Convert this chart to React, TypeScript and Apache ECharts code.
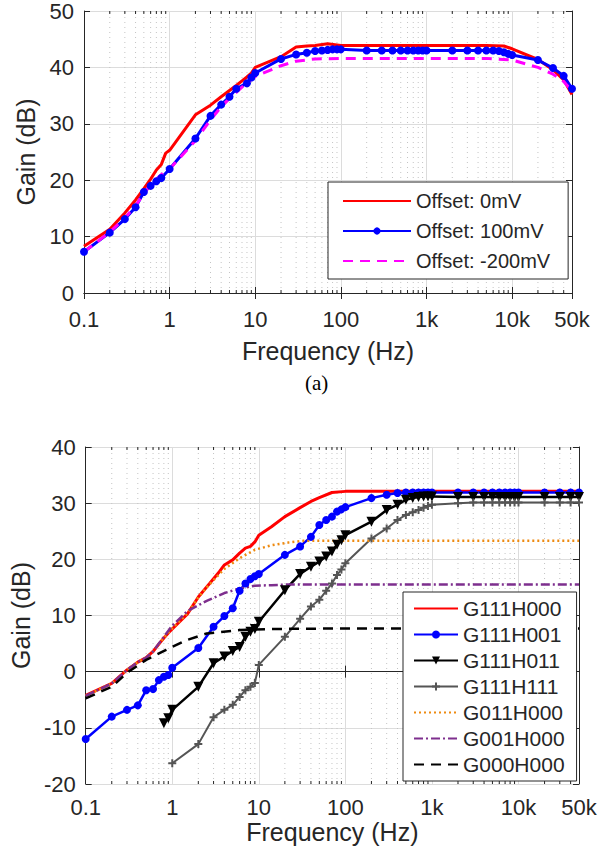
import React, { useEffect, useRef } from "react";
import * as echarts from "echarts";

// ---------- Plot (a): offsets ----------
const A_RED_F = [0.1, 0.2, 0.3, 0.4, 0.5, 0.6, 0.7, 0.8, 0.9, 1, 2, 3, 4, 5, 6, 7, 8, 9, 10, 20, 30, 40, 50, 70, 100, 200, 500, 1000, 2000, 5000, 8000, 10000, 20000, 30000, 40000, 50000];
const A_RED_G = [8.3, 11.3, 14.2, 16.5, 18.5, 20.2, 21.8, 22.8, 24.8, 25.3, 31.6, 33.3, 34.8, 35.9, 36.8, 37.6, 38.3, 39.0, 40.0, 41.9, 43.6, 43.8, 43.9, 44.2, 43.9, 43.9, 43.9, 43.9, 43.9, 43.9, 43.8, 43.3, 41.4, 39.6, 37.8, 35.2];

const A_BLUE_F = [0.1, 0.2, 0.3, 0.4, 0.5, 0.6, 0.7, 0.8, 1, 2, 3, 4, 5, 6, 8, 9, 10, 20, 30, 40, 50, 60, 70, 80, 90, 100, 200, 300, 400, 500, 600, 700, 800, 900, 1000, 2000, 3000, 4000, 5000, 6000, 7000, 8000, 9000, 10000, 20000, 30000, 40000, 50000];
const A_BLUE_G = [7.3, 10.7, 13.1, 15.2, 17.9, 19.0, 19.8, 20.4, 22.0, 27.4, 31.4, 33.4, 34.8, 36.2, 37.2, 38.2, 39.0, 41.5, 42.3, 42.6, 42.9, 43.0, 43.1, 43.2, 43.2, 43.2, 43.0, 43.0, 43.0, 43.0, 43.0, 43.0, 43.0, 43.0, 43.0, 43.0, 43.0, 43.0, 43.0, 43.0, 42.9, 42.7, 42.4, 42.2, 41.3, 39.9, 38.5, 36.2];

const A_MAG_F = [0.1, 0.2, 0.3, 0.4, 0.5, 0.6, 0.7, 0.8, 1, 2, 3, 4, 5, 7, 10, 20, 30, 50, 100, 1000, 5000, 10000, 20000, 30000, 40000, 50000];
const A_MAG_G = [7.3, 10.8, 13.3, 15.5, 17.6, 19.2, 20.2, 21.0, 22.0, 27.0, 30.7, 33.0, 34.5, 36.5, 38.4, 40.3, 41.1, 41.5, 41.6, 41.6, 41.6, 41.3, 40.0, 38.8, 37.5, 35.8];

// ---------- Plot (b): configurations ----------
const B_G111H000_F = [0.1, 0.2, 0.3, 0.4, 0.5, 0.6, 0.7, 0.8, 0.9, 1, 1.5, 2, 2.7, 3.5, 4, 5, 6, 7, 8, 9, 10, 14, 20, 30, 40, 50, 70, 100, 1000, 10000, 50000];
const B_G111H000_G = [-4.2, -2.1, 0.3, 1.7, 2.5, 3.6, 4.9, 6.0, 6.9, 7.6, 10.3, 13.3, 15.7, 17.8, 19.0, 19.9, 21.1, 22.0, 22.3, 23.1, 24.3, 25.8, 27.6, 29.2, 30.3, 31.0, 31.9, 32.1, 32.1, 32.1, 32.1];

const B_G111H001_F = [0.1, 0.2, 0.3, 0.4, 0.5, 0.6, 0.7, 0.8, 0.9, 1, 2, 3, 4, 5, 6, 7, 8, 9, 10, 20, 30, 40, 50, 60, 70, 80, 90, 100, 200, 300, 400, 500, 600, 700, 800, 900, 1000, 2000, 3000, 4000, 5000, 6000, 7000, 8000, 9000, 10000, 20000, 30000, 40000, 50000];
const B_G111H001_G = [-12.0, -8.0, -6.8, -6.0, -3.3, -3.1, -1.5, -0.9, -0.6, 0.7, 4.2, 8.0, 9.9, 11.3, 14.4, 15.7, 16.5, 17.0, 17.4, 20.8, 22.3, 24.0, 26.1, 27.0, 27.6, 28.5, 28.9, 29.3, 30.9, 31.5, 31.8, 31.9, 31.9, 31.9, 31.9, 31.9, 31.9, 31.9, 31.9, 31.9, 31.9, 31.9, 31.9, 31.9, 31.9, 31.9, 31.9, 31.9, 31.9, 31.9];

const B_G111H011_F = [0.8, 0.9, 1, 2, 3, 4, 5, 6, 7, 8, 9, 10, 20, 30, 40, 50, 60, 70, 80, 90, 100, 200, 300, 400, 500, 600, 700, 800, 900, 1000, 2000, 3000, 4000, 5000, 6000, 7000, 8000, 9000, 10000, 20000, 30000, 40000, 50000];
const B_G111H011_G = [-9.2, -8.3, -6.8, -2.7, 1.5, 2.7, 3.7, 4.4, 6.2, 7.1, 7.6, 8.9, 14.5, 17.4, 18.7, 19.6, 20.5, 21.4, 22.6, 23.4, 24.3, 26.7, 28.8, 29.7, 30.6, 30.9, 31.1, 31.2, 31.2, 31.2, 31.1, 31.1, 31.1, 31.1, 31.1, 31.1, 31.1, 31.1, 31.1, 31.1, 31.1, 31.1, 31.1];

const B_G111H111_F = [1, 2, 3, 4, 5, 6, 7, 8, 9, 10, 20, 30, 40, 50, 60, 70, 80, 90, 100, 200, 300, 400, 500, 600, 700, 800, 900, 1000, 2000, 3000, 4000, 5000, 6000, 7000, 8000, 9000, 10000, 20000, 30000, 40000, 50000];
const B_G111H111_G = [-16.3, -12.9, -8.1, -6.8, -5.9, -4.5, -3.3, -2.7, -2.0, 1.2, 6.2, 9.4, 11.6, 12.8, 14.4, 15.7, 17.2, 18.2, 19.3, 23.7, 25.5, 27.0, 27.9, 28.4, 28.8, 29.2, 29.5, 29.7, 30.0, 30.1, 30.1, 30.1, 30.1, 30.1, 30.1, 30.1, 30.1, 30.1, 30.1, 30.1, 30.1];

const B_G011H000_F = [0.1, 0.2, 0.3, 0.4, 0.5, 0.6, 0.7, 0.8, 1, 1.5, 2, 2.5, 3, 4, 6, 9, 14, 22, 33, 50, 100, 1000, 10000, 50000];
const B_G011H000_G = [-4.3, -2.1, 0.3, 1.7, 2.5, 3.6, 4.9, 6.0, 7.7, 10.4, 13.2, 15.0, 16.3, 18.3, 20.2, 21.7, 22.5, 23.0, 23.3, 23.3, 23.3, 23.3, 23.3, 23.3];

const B_G001H000_F = [0.1, 0.2, 0.3, 0.4, 0.5, 0.6, 0.7, 1, 1.5, 2.5, 4, 6, 9, 14, 20, 100, 1000, 10000, 50000];
const B_G001H000_G = [-4.3, -2.1, 0.3, 1.7, 2.5, 3.6, 5.0, 8.2, 10.8, 12.6, 14.0, 14.8, 15.3, 15.4, 15.5, 15.5, 15.5, 15.5, 15.5];

const B_G000H000_F = [0.1, 0.2, 0.3, 0.5, 0.85, 1.45, 2.5, 6, 14, 100, 1000, 10000, 50000];
const B_G000H000_G = [-4.75, -2.7, -0.2, 2.1, 3.9, 5.6, 6.8, 7.4, 7.6, 7.7, 7.7, 7.7, 7.7];

// axis ranges / ticks
const X_MIN = 0.1;
const X_MAX = 50000;
const A_Y = [0, 50];
const B_Y = [-20, 40];
const MINOR_F = [
  0.2, 0.3, 0.4, 0.5, 0.6, 0.7, 0.8, 0.9,
  2, 3, 4, 5, 6, 7, 8, 9,
  20, 30, 40, 50, 60, 70, 80, 90,
  200, 300, 400, 500, 600, 700, 800, 900,
  2000, 3000, 4000, 5000, 6000, 7000, 8000, 9000,
  20000, 30000, 40000,
];

const FONT = "'Liberation Sans', Arial, Helvetica, sans-serif";
const AX = "#262626";
const GRID_C = "#dcdcdc";

const pairs = (f: number[], g: number[]) => f.map((v, i) => [v, g[i]]);

const fmtX = (v: number) => {
  const r = Number(Number(v).toPrecision(3));
  if (r >= 1000) return `${Number((r / 1000).toPrecision(3))}k`;
  return `${r}`;
};

function xAxes(gridIndex: number, margin: number, nameGap: number) {
  return [
    {
      type: "log", logBase: 10, gridIndex, min: X_MIN, max: X_MAX, position: "bottom",
      axisLine: { show: true, lineStyle: { color: AX, width: 1 } },
      axisTick: { show: true, inside: true, length: 6, lineStyle: { color: AX } },
      axisLabel: { color: AX, fontSize: 22, fontFamily: FONT, margin, formatter: fmtX },
      splitLine: { show: true, lineStyle: { color: GRID_C, width: 1 } },
      minorTick: { show: false }, minorSplitLine: { show: false },
      name: "Frequency (Hz)", nameLocation: "middle", nameGap,
      nameTextStyle: { color: AX, fontSize: 25, fontFamily: FONT },
    },
    {
      type: "log", logBase: 10, gridIndex, min: X_MIN, max: X_MAX, position: "top",
      axisLine: { show: true, lineStyle: { color: AX, width: 1 } },
      axisTick: { show: true, inside: true, length: 6, lineStyle: { color: AX } },
      axisLabel: { show: false }, splitLine: { show: false },
    },
  ];
}

function yAxes(gridIndex: number, range: number[], nameGap: number) {
  return [
    {
      type: "value", gridIndex, min: range[0], max: range[1], interval: 10, position: "left",
      axisLine: { show: true, lineStyle: { color: AX, width: 1 } },
      axisTick: { show: true, inside: true, length: 6, lineStyle: { color: AX } },
      axisLabel: { color: AX, fontSize: 22, fontFamily: FONT, margin: 10 },
      splitLine: { show: true, lineStyle: { color: GRID_C, width: 1 } },
      name: "Gain (dB)", nameLocation: "middle", nameGap, nameRotate: 90,
      nameTextStyle: { color: AX, fontSize: 25, fontFamily: FONT },
    },
    {
      type: "value", gridIndex, min: range[0], max: range[1], interval: 10, position: "right",
      axisLine: { show: true, lineStyle: { color: AX, width: 1 } },
      axisTick: { show: true, inside: true, length: 6, lineStyle: { color: AX } },
      axisLabel: { show: false }, splitLine: { show: false },
    },
  ];
}

function minorSeries(xIdx: number, yIdx: number, range: number[]) {
  return {
    type: "custom", xAxisIndex: xIdx, yAxisIndex: yIdx, silent: true, z: 1,
    encode: { x: 0, y: 1 },
    data: MINOR_F.map((f) => [f, range[0]]),
    renderItem: (_p: any, api: any) => {
      const f = api.value(0);
      const b = api.coord([f, range[0]]);
      const t = api.coord([f, range[1]]);
      return {
        type: "group",
        children: [
          { type: "line", shape: { x1: b[0], y1: b[1], x2: t[0], y2: t[1] }, style: { stroke: "#c4c4c4", lineWidth: 1, lineDash: [1, 4] } },
          { type: "line", shape: { x1: b[0], y1: b[1], x2: b[0], y2: b[1] - 3 }, style: { stroke: AX, lineWidth: 1 } },
          { type: "line", shape: { x1: t[0], y1: t[1], x2: t[0], y2: t[1] + 3 }, style: { stroke: AX, lineWidth: 1 } },
        ],
      };
    },
  };
}

const PLUS = "path://M3,0 H5 V3 H8 V5 H5 V8 H3 V5 H0 V3 H3 Z";
const NO_MARK = { itemStyle: { opacity: 0 } };

export default function App() {
  const ref = useRef<HTMLDivElement>(null);
  useEffect(() => {
    if (!ref.current) return;
    const chart = echarts.init(ref.current, undefined, { renderer: "svg" });
    const line = (name: string, x: number, y: number, data: any[], color: string, width: number, extra: any = {}) => ({
      type: "line", name, xAxisIndex: x, yAxisIndex: y, data, z: 3,
      showSymbol: extra.symbol ? true : false,
      symbol: extra.symbol || "none",
      symbolSize: extra.symbolSize || 8,
      symbolRotate: extra.symbolRotate || 0,
      itemStyle: { color },
      lineStyle: { color, width, type: extra.dash || "solid" },
      emphasis: { disabled: true },
    });
    const option: any = {
      animation: false,
      backgroundColor: "#ffffff",
      textStyle: { fontFamily: FONT },
      grid: [
        { left: 84, top: 11, width: 488, height: 282 },
        { left: 78, top: 447, width: 501, height: 337 },
      ],
      xAxis: [...xAxes(0, 15, 45), ...xAxes(1, 12, 35)],
      yAxis: [...yAxes(0, A_Y, 45), ...yAxes(1, B_Y, 52)],
      legend: [
        {
          data: [
            { name: "Offset: 0mV", ...NO_MARK },
            { name: "Offset: 100mV" },
            { name: "Offset: -200mV", ...NO_MARK },
          ],
          orient: "vertical", left: 328, top: 182,
          padding: [9, 18, 8, 14], itemGap: 10, itemWidth: 68, itemHeight: 9,
          borderColor: AX, borderWidth: 1, backgroundColor: "#ffffff",
          textStyle: { color: AX, fontSize: 20, fontFamily: FONT },
        },
        {
          data: [
            { name: "G111H000", ...NO_MARK },
            { name: "G111H001" },
            { name: "G111H011" },
            { name: "G111H111" },
            { name: "G011H000", ...NO_MARK },
            { name: "G001H000", ...NO_MARK },
            { name: "G000H000", ...NO_MARK },
          ],
          orient: "vertical", left: 403, top: 592,
          padding: [6, 12, 6, 10], itemGap: 5, itemWidth: 44, itemHeight: 10,
          borderColor: AX, borderWidth: 1, backgroundColor: "#ffffff",
          textStyle: { color: AX, fontSize: 21, fontFamily: FONT },
        },
      ],
      graphic: [
        { type: "text", left: 305, top: 372, style: { text: "(a)", fontSize: 21, fontFamily: "'Liberation Serif', 'Times New Roman', serif", fill: "#000" } },
      ],
      series: [
        minorSeries(0, 0, A_Y),
        minorSeries(2, 2, B_Y),
        line("Offset: 0mV", 0, 0, pairs(A_RED_F, A_RED_G), "#ff0000", 3),
        line("Offset: 100mV", 0, 0, pairs(A_BLUE_F, A_BLUE_G), "#0000ff", 3, { symbol: "circle", symbolSize: 8 }),
        line("Offset: -200mV", 0, 0, pairs(A_MAG_F, A_MAG_G), "#ff00ff", 3, { dash: [10, 7] }),
        line("G111H000", 2, 2, pairs(B_G111H000_F, B_G111H000_G), "#ff0000", 3),
        line("G111H001", 2, 2, pairs(B_G111H001_F, B_G111H001_G), "#0000ff", 2.5, { symbol: "circle", symbolSize: 8 }),
        line("G111H011", 2, 2, pairs(B_G111H011_F, B_G111H011_G), "#000000", 2.5, { symbol: "triangle", symbolSize: 10, symbolRotate: 180 }),
        line("G111H111", 2, 2, pairs(B_G111H111_F, B_G111H111_G), "#555555", 2, { symbol: PLUS, symbolSize: 8 }),
        line("G011H000", 2, 2, pairs(B_G011H000_F, B_G011H000_G), "#ee8a10", 2.5, { dash: [2, 3] }),
        line("G001H000", 2, 2, pairs(B_G001H000_F, B_G001H000_G), "#7e2f8e", 2.5, { dash: [9, 3, 2, 3] }),
        line("G000H000", 2, 2, pairs(B_G000H000_F, B_G000H000_G), "#000000", 2.5, { dash: [10, 7] }),
      ],
    };
    chart.setOption(option);
    return () => chart.dispose();
  }, []);
  return <div ref={ref} style={{ position: "absolute", left: 0, top: 0, width: 600, height: 853 }} />;
}
